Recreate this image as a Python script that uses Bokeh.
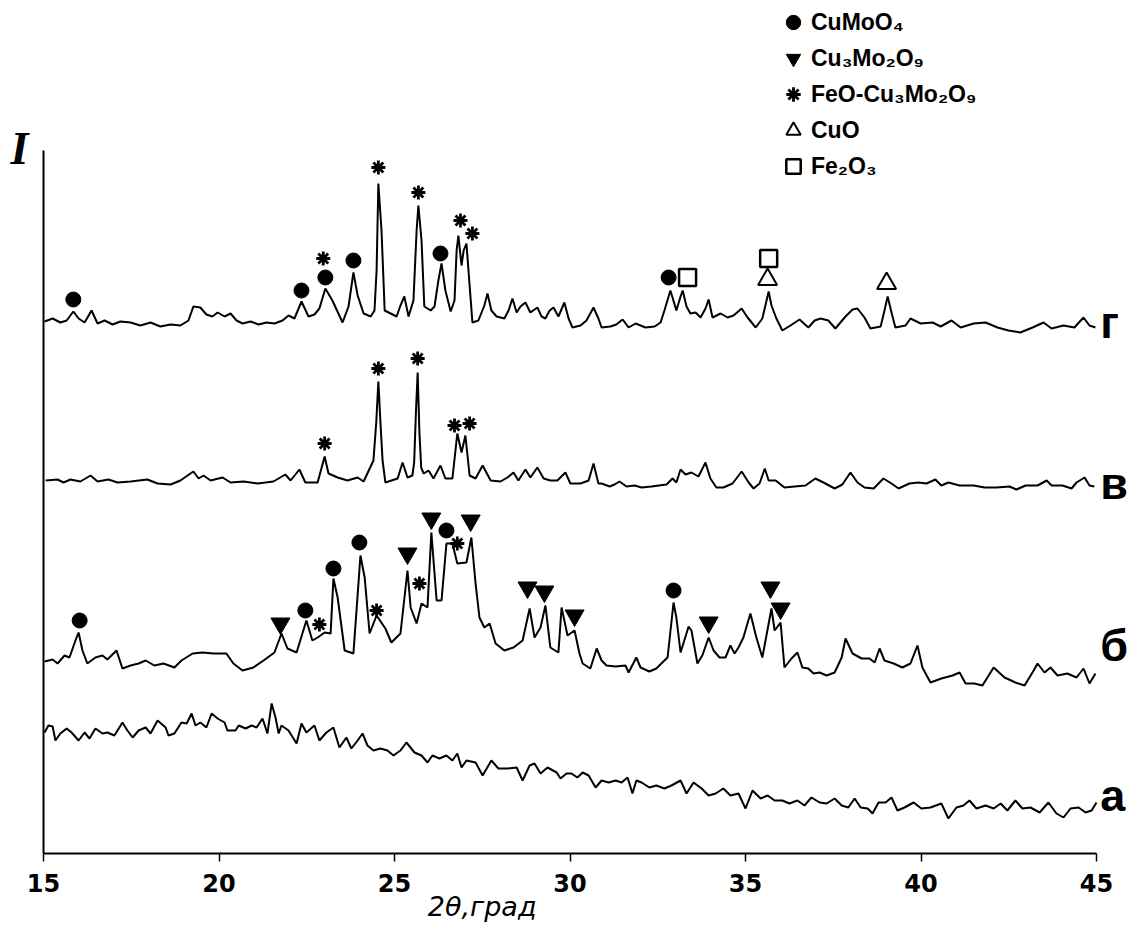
import numpy as np
from bokeh.plotting import figure
from bokeh.models import Legend, LegendItem, Label, Range1d, FixedTicker, BoxAnnotation
from bokeh.embed import file_html
from bokeh.resources import INLINE

# ---------------- data (2theta in degrees, intensity in arbitrary units, traces stacked) ----------------
x_ticks = [15, 20, 25, 30, 35, 40, 45]
x_title = "2θ,град"
y_title = "I"
trace_names = ["г", "в", "б", "а"]
name_y = [540, 379, 217, 67]

g_x = [15.03,15.26,15.48,15.66,15.85,16.00,16.17,16.37,16.54,16.74,
       16.97,17.19,17.48,17.76,18.05,18.33,18.62,18.90,19.13,19.27,
       19.47,19.64,19.81,19.96,20.16,20.33,20.50,20.67,20.90,21.13,
       21.35,21.58,21.81,21.98,22.15,22.35,22.55,22.72,22.86,23.03,
       23.23,23.52,23.69,23.83,23.95,24.12,24.32,24.43,24.49,24.54,
       24.63,24.72,24.89,25.06,25.17,25.28,25.40,25.54,25.63,25.68,
       25.77,25.85,26.03,26.14,26.25,26.34,26.45,26.60,26.71,26.77,
       26.82,26.91,26.97,27.05,27.14,27.22,27.39,27.56,27.65,27.76,
       27.91,28.13,28.25,28.36,28.48,28.59,28.73,28.87,29.07,29.19,
       29.30,29.42,29.53,29.67,29.84,29.96,30.07,30.30,30.47,30.67,
       30.81,30.90,31.15,31.32,31.50,31.67,31.87,32.15,32.41,32.58,
       32.69,32.86,32.98,33.03,33.15,33.21,33.32,33.43,33.58,33.72,
       33.86,33.95,34.06,34.29,34.49,34.66,34.89,35.06,35.29,35.48,
       35.60,35.66,35.74,35.88,36.05,36.28,36.54,36.79,36.97,37.14,
       37.36,37.56,37.85,38.05,38.19,38.39,38.56,38.85,38.96,39.05,
       39.16,39.27,39.56,39.70,39.99,40.33,40.56,40.87,41.13,41.50,
       41.84,42.18,42.49,42.83,43.18,43.49,43.72,44.06,44.37,44.63,
       44.80,44.97]
g_y = [541,544,540,542,551,544,540,552,539,542,
       538,541,540,537,540,536,538,537,542,556,
       555,548,546,550,546,549,542,539,541,538,
       540,539,542,547,544,561,546,548,554,574,
       562,540,556,590,567,549,546,552,592,679,
       632,552,549,546,557,566,546,562,632,657,
       622,556,552,556,582,599,572,551,562,612,
       627,597,612,619,577,540,542,557,569,552,
       546,544,552,564,550,556,560,550,555,546,
       544,552,555,546,560,544,535,537,542,555,
       544,535,536,538,543,535,539,535,536,540,
       552,572,558,552,566,572,556,549,550,545,
       554,563,545,549,545,547,554,545,535,544,
       562,571,557,544,532,537,543,535,542,544,
       542,534,546,553,554,545,534,536,552,566,
       550,535,537,544,539,540,536,542,535,539,
       540,535,532,530,535,540,534,537,535,545,
       537,535]

v_x = [15.06,15.40,15.57,15.77,16.05,16.34,16.54,16.85,17.11,17.48,
       17.96,18.25,18.62,18.90,19.27,19.42,19.56,19.76,20.10,20.33,
       20.70,21.10,21.55,21.89,22.04,22.29,22.46,22.81,23.01,23.12,
       23.38,23.66,23.95,24.12,24.40,24.48,24.54,24.60,24.66,24.74,
       25.09,25.23,25.37,25.51,25.56,25.61,25.66,25.71,25.76,25.83,
       25.97,26.11,26.31,26.45,26.65,26.79,26.91,27.02,27.14,27.31,
       27.51,27.74,28.02,28.22,28.39,28.53,28.73,28.87,29.07,29.25,
       29.44,29.64,29.87,30.01,30.30,30.53,30.67,30.81,30.90,31.13,
       31.27,31.41,31.61,31.84,32.04,32.32,32.75,32.92,33.03,33.15,
       33.29,33.46,33.66,33.86,34.00,34.17,34.37,34.63,34.89,35.09,
       35.23,35.40,35.55,35.66,35.86,36.11,36.40,36.71,36.99,37.22,
       37.54,37.76,37.99,38.19,38.39,38.65,38.93,39.16,39.36,39.67,
       39.93,40.16,40.41,40.58,40.78,41.10,41.50,41.81,42.15,42.52,
       42.72,42.98,43.32,43.58,43.72,44.03,44.29,44.43,44.66,44.80,
       44.94]
v_y = [382,383,380,383,381,387,381,383,380,381,
       383,379,378,382,391,384,387,382,385,380,
       381,379,381,388,382,393,380,380,406,389,
       385,382,385,381,402,440,481,440,402,380,
       384,400,385,387,400,450,490,430,395,389,
       392,384,397,384,384,429,410,427,387,384,
       397,382,381,385,390,382,393,385,395,384,
       382,382,390,379,379,382,399,379,379,376,
       378,381,376,377,375,376,378,384,380,393,
       388,390,386,400,384,375,375,379,391,380,
       374,379,394,382,382,375,376,377,384,380,
       374,378,390,380,375,374,384,379,374,379,
       380,379,383,377,380,377,377,375,375,376,
       373,377,377,382,377,377,374,380,385,377,
       376]

b_x = [15.03,15.26,15.40,15.60,15.74,15.91,16.00,16.11,16.25,16.48,
       16.68,16.82,17.08,17.25,17.48,17.71,17.91,18.16,18.42,18.73,
       18.93,19.25,19.53,19.84,20.21,20.41,20.67,20.98,21.27,21.58,
       21.78,21.95,22.21,22.49,22.66,22.81,23.01,23.18,23.26,23.38,
       23.58,23.83,24.03,24.15,24.29,24.49,24.74,24.91,25.17,25.37,
       25.46,25.63,25.77,25.94,26.05,26.20,26.34,26.48,26.65,26.79,
       27.05,27.19,27.31,27.42,27.56,27.71,27.88,28.13,28.39,28.65,
       28.85,28.99,29.16,29.30,29.44,29.67,29.76,29.93,30.13,30.27,
       30.36,30.58,30.76,30.90,31.04,31.30,31.58,31.67,31.89,32.01,
       32.26,32.46,32.69,32.78,32.95,33.03,33.15,33.38,33.46,33.63,
       33.77,33.95,34.09,34.26,34.43,34.57,34.69,34.80,34.94,35.14,
       35.31,35.48,35.57,35.74,35.83,36.00,36.11,36.31,36.48,36.62,
       36.79,36.94,37.11,37.31,37.54,37.74,37.85,38.05,38.31,38.53,
       38.68,38.82,38.96,39.22,39.47,39.70,39.90,40.04,40.27,40.58,
       40.90,41.10,41.27,41.52,41.75,42.07,42.38,42.69,42.95,43.21,
       43.32,43.52,43.69,43.89,44.17,44.43,44.63,44.80,44.97]
b_y = [201,203,199,207,205,222,230,212,199,205,
       207,203,212,194,197,199,202,197,199,195,
       202,209,210,209,209,199,192,195,202,210,
       229,214,210,242,222,225,230,229,284,265,
       212,209,307,285,229,247,234,220,229,292,
       255,239,259,255,330,262,262,319,319,299,
       300,325,279,245,235,239,219,212,215,222,
       254,225,235,257,215,210,255,227,232,209,
       199,194,214,202,197,196,197,190,205,195,
       191,194,202,205,260,245,210,236,232,199,
       207,225,212,205,205,217,209,215,225,249,
       225,205,222,254,232,240,195,204,210,195,
       194,189,190,187,190,205,224,209,204,204,
       200,214,202,199,195,199,217,195,180,184,
       187,190,179,179,177,195,185,180,177,192,
       199,190,195,187,189,185,194,179,189]

a_x = [15.03,15.14,15.26,15.34,15.48,15.66,15.80,16.00,16.17,16.31,
       16.48,16.68,16.82,17.02,17.25,17.39,17.54,17.71,17.91,18.05,
       18.25,18.48,18.56,18.73,18.93,19.08,19.22,19.33,19.47,19.64,
       19.79,19.96,20.16,20.24,20.47,20.56,20.76,20.93,21.07,21.24,
       21.38,21.50,21.61,21.70,21.78,21.98,22.21,22.35,22.49,22.72,
       22.86,23.06,23.26,23.43,23.63,23.77,23.95,24.09,24.23,24.40,
       24.60,24.80,24.97,25.17,25.34,25.57,25.77,25.94,26.08,26.28,
       26.48,26.65,26.79,26.91,27.05,27.31,27.51,27.76,27.96,28.22,
       28.48,28.65,28.85,28.99,29.16,29.36,29.62,
       29.73,29.90,30.04,30.21,30.36,30.53,30.73,30.90,31.10,31.30,
       31.47,31.64,31.78,31.89,32.04,32.26,32.46,32.69,32.89,33.15,
       33.32,33.52,33.75,33.95,34.15,34.37,34.57,34.80,35.00,35.20,
       35.43,35.63,35.83,36.05,36.25,36.48,36.68,36.88,37.11,37.31,
       37.54,37.74,37.93,38.11,38.28,38.48,38.62,38.79,38.99,39.16,
       39.33,39.53,39.79,40.01,40.27,40.58,40.78,41.01,41.21,41.38,
       41.58,41.84,42.07,42.27,42.46,42.69,42.89,43.12,43.38,43.63,
       43.86,44.06,44.26,44.49,44.69,44.86,45.00]
a_y = [130,137,136,122,129,134,130,122,130,124,
       134,129,130,127,140,132,125,132,135,129,
       142,135,127,129,140,139,149,137,140,135,
       149,144,140,132,132,137,134,137,135,144,
       129,159,145,129,137,132,119,139,130,137,
       122,130,135,115,125,114,122,129,117,112,
       114,112,107,112,120,110,107,100,107,104,
       107,102,109,95,102,100,87,102,94,94,
       95,82,97,99,89,95,90,
       84,89,89,85,90,87,75,82,80,82,
       80,85,69,82,80,75,77,74,77,82,
       69,80,74,67,69,74,67,69,54,72,
       64,67,62,62,59,62,57,65,60,59,
       64,57,55,64,55,54,49,60,60,65,
       52,55,60,54,55,59,44,55,57,62,
       54,57,54,59,52,62,54,55,50,60,
       49,45,54,55,50,52,60]

# phase markers (position of the symbol above each identified reflection)
phase_labels = ["CuMoO₄", "Cu₃Mo₂O₉", "FeO-Cu₃Mo₂O₉", "CuO", "Fe₂O₃"]
cumoo4_x = [15.85, 22.35, 23.03, 23.83, 26.31, 32.81, 16.03, 22.46, 23.26, 24.00, 26.48, 32.95]
cumoo4_y = [563, 572, 585, 602, 609, 585, 242, 252, 294, 320, 332, 272]
cu3_x = [21.75, 25.37, 26.05, 27.17, 28.79, 29.27, 30.13, 33.95, 35.71, 36.00]
cu3_y = [239, 309, 344, 342, 275, 271, 247, 240, 275, 254]
feo_x = [22.97, 24.54, 25.68, 26.88, 27.22, 23.01, 24.54, 25.66, 26.71, 27.14, 22.86, 24.49, 25.71, 26.79]
feo_y = [604, 695, 670, 642, 629, 419, 494, 504, 437, 439, 238, 252, 279, 319]
cuo_x = [35.63, 39.02]
cuo_y = [583, 579]
fe2o3_x = [33.35, 35.66]
fe2o3_y = [585, 604]

# ---------------- figure ----------------
PX_PER_DEG = 35.1
W, H = 1135, 927
AXIS_PX = 43          # screen x of 15 deg
FRAME_H = 853
x_start = x_ticks[0] - AXIS_PX / PX_PER_DEG
x_end = x_start + W / PX_PER_DEG

p = figure(width=W, height=H, output_backend="svg", toolbar_location=None,
           x_range=Range1d(x_start, x_end), y_range=Range1d(9, 9 + FRAME_H),
           y_axis_location=None,
           min_border_left=0, min_border_right=0, min_border_top=0, min_border_bottom=H - FRAME_H)
p.xgrid.visible = False
p.ygrid.visible = False
p.outline_line_color = None
p.background_fill_color = "white"
p.border_fill_color = "white"

xa = p.xaxis[0]
xa.ticker = FixedTicker(ticks=x_ticks)
xa.bounds = (x_ticks[0], x_ticks[-1])
xa.axis_line_width = 2
xa.axis_line_color = "black"
xa.major_tick_line_color = "black"
xa.major_tick_line_width = 1.5
xa.major_tick_out = 8
xa.major_tick_in = 0
xa.minor_tick_line_color = None
xa.major_label_text_font = "DejaVu Sans"
xa.major_label_text_font_style = "bold"
xa.major_label_text_font_size = "24px"
xa.major_label_text_color = "black"
xa.major_label_standoff = 12
xa.axis_label = x_title + "\u00a0" * 20
xa.axis_label_text_font = "DejaVu Sans"
xa.axis_label_text_font_style = "italic"
xa.axis_label_text_font_size = "27px"
xa.axis_label_text_color = "black"
xa.axis_label_standoff = -4

# y axis line (no ticks, no labels)
p.add_layout(BoxAnnotation(left=x_ticks[0], right=x_ticks[0], bottom=0, top=712,
                           fill_alpha=0, line_color="black", line_width=2, line_alpha=1))

for xs, ys in [(g_x, g_y), (v_x, v_y), (b_x, b_y), (a_x, a_y)]:
    p.line(xs, ys, line_color="black", line_width=2)

r_c = p.scatter(cumoo4_x, cumoo4_y, marker="circle", size=15, color="black")
r_t = p.scatter(cu3_x, cu3_y, marker="inverted_triangle", size=19, color="black")
r_s = p.scatter(feo_x, feo_y, marker="asterisk", size=14, line_color="black", line_width=2.8)
r_o = p.scatter(cuo_x, cuo_y, marker="triangle", size=19, fill_alpha=0, line_color="black", line_width=2)
r_q = p.scatter(fe2o3_x, fe2o3_y, marker="square", size=17, fill_alpha=0, line_color="black", line_width=2.5)

legend = Legend(items=[LegendItem(label=phase_labels[0], renderers=[r_c]),
                       LegendItem(label=phase_labels[1], renderers=[r_t]),
                       LegendItem(label=phase_labels[2], renderers=[r_s]),
                       LegendItem(label=phase_labels[3], renderers=[r_o]),
                       LegendItem(label=phase_labels[4], renderers=[r_q])],
                location=(775, 669), border_line_color=None, background_fill_alpha=0,
                padding=0, margin=0, spacing=0, glyph_height=36, glyph_width=36,
                label_height=36, label_standoff=0, label_text_font="Liberation Sans",
                label_text_font_style="bold", label_text_font_size="23px",
                label_text_color="black")
p.add_layout(legend)

for name, yv in zip(trace_names, name_y):
    p.add_layout(Label(x=45.11, y=yv, text=name, text_font="Liberation Sans",
                       text_font_style="bold", text_font_size="45px", text_color="black",
                       text_baseline="alphabetic", text_align="left"))

p.add_layout(Label(x=14.06, y=714, text=y_title, text_font="Liberation Serif",
                   text_font_style="bold italic", text_font_size="46px", text_color="black",
                   text_baseline="alphabetic", text_align="left"))

open("out.html", "w").write(file_html(p, INLINE))
